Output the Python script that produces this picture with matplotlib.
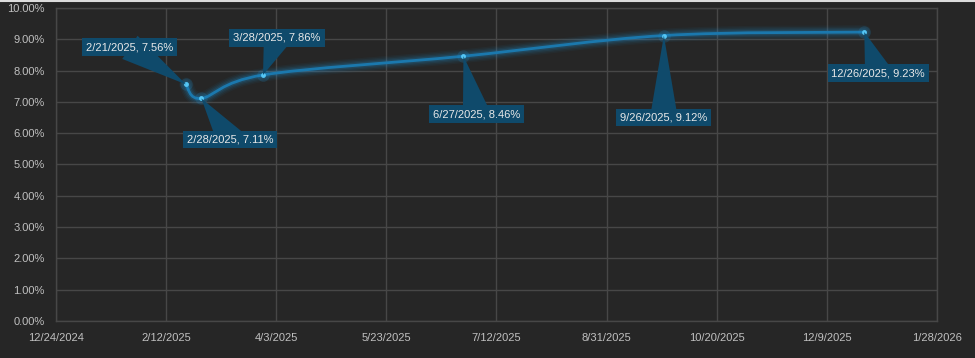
import datetime as dt
import matplotlib
matplotlib.use("Agg")
import matplotlib.pyplot as plt
import matplotlib.dates as mdates
from matplotlib.path import Path
from matplotlib.patches import PathPatch
from matplotlib.ticker import FuncFormatter, MultipleLocator, FixedLocator
from matplotlib.lines import Line2D

# data
dates = ["2025-02-21", "2025-02-28", "2025-03-28", "2025-06-27", "2025-09-26", "2025-12-26"]
rates = [7.56, 7.11, 7.86, 8.46, 9.12, 9.23]
# label offsets in pixels (dx, dy) from each point
label_offsets = [(-56, 37), (29, -41), (14, 37), (13, -58), (0, -82), (14, -41)]

x_start = dt.date(2024, 12, 24)
x_end = dt.date(2026, 1, 28)
x_step = 50  # days between x ticks

BG = "#262626"
GRID = "#474747"
LINE = "#1b78ad"
GLOW = "#1f8fd0"
DOT = "#55c6f5"
BOX = "#0f4a6b"
TXT = "#c0c0c0"

plt.rcParams['font.family'] = ['Liberation Sans', 'DejaVu Sans']

fig = plt.figure(figsize=(9.75, 3.58), dpi=100, facecolor=BG)
ax = fig.add_axes([0.0574, 0.1034, 0.9036, 0.8743])
ax.set_facecolor(BG)

xs = [mdates.date2num(dt.date.fromisoformat(d)) for d in dates]
pts = list(zip(xs, rates))

# smoothed line (catmull-rom style bezier, like excel's smoothed line)
verts = [pts[0]]
codes = [Path.MOVETO]
n = len(pts)
for i in range(n - 1):
    p0 = pts[i - 1] if i > 0 else pts[i]
    p1 = pts[i]
    p2 = pts[i + 1]
    p3 = pts[i + 2] if i + 2 < n else pts[i + 1]
    c1 = (p1[0] + (p2[0] - p0[0]) / 6, p1[1] + (p2[1] - p0[1]) / 6)
    c2 = (p2[0] - (p3[0] - p1[0]) / 6, p2[1] - (p3[1] - p1[1]) / 6)
    verts += [c1, c2, p2]
    codes += [Path.CURVE4] * 3
path = Path(verts, codes)

# soft glow under the line
for lw, a in [(10, 0.05), (8, 0.07), (6, 0.1), (4, 0.16)]:
    ax.add_patch(PathPatch(path, fill=False, ec=GLOW, lw=lw, alpha=a,
                           capstyle="round", zorder=3))
ax.add_patch(PathPatch(path, fill=False, ec=LINE, lw=2, zorder=4))

ax.plot(xs, rates, ls="none", marker="o", ms=9, color=GLOW, alpha=0.18, mec="none", zorder=5)
ax.plot(xs, rates, ls="none", marker="o", ms=3.5, color=DOT, mec="none", zorder=6)

for x, y, d, (dx, dy) in zip(xs, rates, dates, label_offsets):
    day = dt.date.fromisoformat(d)
    lbl = f"{day.month}/{day.day}/{day.year}, {y:.2f}%"
    ax.annotate(lbl, xy=(x, y), xytext=(dx, dy), textcoords="offset pixels",
                ha="center", va="center", fontsize=8, color="#e8e8e8",
                bbox=dict(boxstyle="square,pad=0.35", fc=BOX, ec="none"),
                arrowprops=dict(arrowstyle="wedge,tail_width=2.0,shrink_factor=0.5",
                                mutation_scale=10,
                                fc=BOX, ec="none", patchA=None, shrinkA=0, shrinkB=0,
                                connectionstyle="arc3,rad=0"),
                zorder=7)

x0 = mdates.date2num(x_start)
x1 = mdates.date2num(x_end)
ax.set_xlim(x0, x1)
ax.set_ylim(0, 10)
xticks = [x0 + k * x_step for k in range(int((x1 - x0) // x_step) + 1)]
ax.xaxis.set_major_locator(FixedLocator(xticks))
ax.xaxis.set_major_formatter(FuncFormatter(
    lambda v, p: f"{mdates.num2date(v).month}/{mdates.num2date(v).day}/{mdates.num2date(v).year}"))
ax.yaxis.set_major_locator(MultipleLocator(1))
ax.yaxis.set_major_formatter(FuncFormatter(lambda v, p: f"{v:.2f}%"))

ax.grid(True, color=GRID, lw=1)
ax.set_axisbelow(True)
for s in ax.spines.values():
    s.set_color(GRID)
    s.set_linewidth(1)
ax.tick_params(length=0, colors=TXT, labelsize=8)
ax.tick_params(axis="y", pad=8)
ax.tick_params(axis="x", pad=9)

# thin light border along the top edge
fig.add_artist(Line2D([0, 1], [0.998, 0.998], transform=fig.transFigure, color="#dcdcdc", lw=1.5))

fig.savefig("out.png", dpi=100, facecolor=BG)
